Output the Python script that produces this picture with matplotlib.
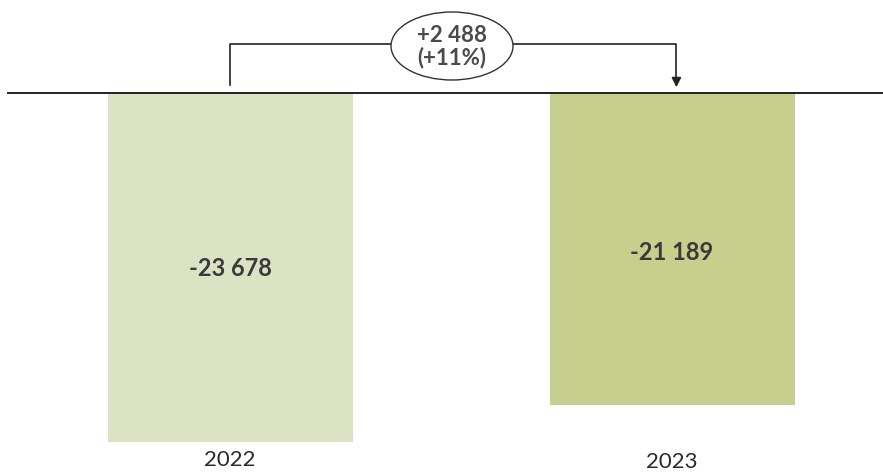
import matplotlib
matplotlib.use("Agg")
import matplotlib.pyplot as plt
from matplotlib.patches import Ellipse

categories = ["2022", "2023"]
values = [-23678, -21189]
value_labels = ["-23 678", "-21 189"]
change_label = "+2 488\n(+11%)"
bar_colors = ["#dce3c4", "#c7cf8d"]

W, H = 883, 473
fig = plt.figure(figsize=(W / 100, H / 100), dpi=100)
ax = fig.add_axes([0, 0, 1, 1])
ax.set_axis_off()

# scale: 1 px = 67.84 units vertically, 442 px per category horizontally
upp = 67.84
ax.set_xlim(-230 / 442, (W - 230) / 442)
ax.set_ylim(-(H - 93) * upp, 93 * upp)

x = list(range(len(categories)))
ax.bar(x, values, width=245 / 442, color=bar_colors, zorder=1)

# baseline
ax.plot([(8 - 230) / 442, (W - 230) / 442], [0, 0], color="#222222", lw=1.4, zorder=3)

fam = ["Lato", "DejaVu Sans"]
label_y = [-175 * upp, -159 * upp]
for xi, lab, ly in zip(x, value_labels, label_y):
    ax.text(xi, ly, lab, ha="center", va="center", fontsize=17, fontweight="bold",
            color="#3a3a3a", family=fam)

year_y = [-367 * upp, -369 * upp]
for xi, cat, yy in zip(x, categories, year_y):
    ax.text(xi, yy, cat, ha="center", va="center", fontsize=16, color="#2a2a2a", family=fam)

# bracket with change label
by = 49 * upp
ex = (452 - 230) / 442
ew = 122 / 442
ax.plot([x[0], x[0], ex - ew / 2], [8 * upp, by, by], color="#222222", lw=1.2, zorder=3)
ax.plot([ex + ew / 2, x[1] + 0.01, x[1] + 0.01], [by, by, 12 * upp], color="#222222", lw=1.2, zorder=3)
ax.annotate("", xy=(x[1] + 0.01, 3 * upp), xytext=(x[1] + 0.01, 14 * upp),
            arrowprops=dict(arrowstyle="-|>", color="#222222", lw=1.2, mutation_scale=14),
            zorder=3)
ax.add_patch(Ellipse((ex, 47 * upp), ew, 68 * upp, facecolor="white",
                     edgecolor="#333333", lw=1.0, zorder=4))
ax.text(ex, 46 * upp, change_label, ha="center", va="center", fontsize=16,
        fontweight="bold", color="#4a4a4a", family=fam, linespacing=1.05, zorder=5)

fig.savefig("out.png", dpi=100)
